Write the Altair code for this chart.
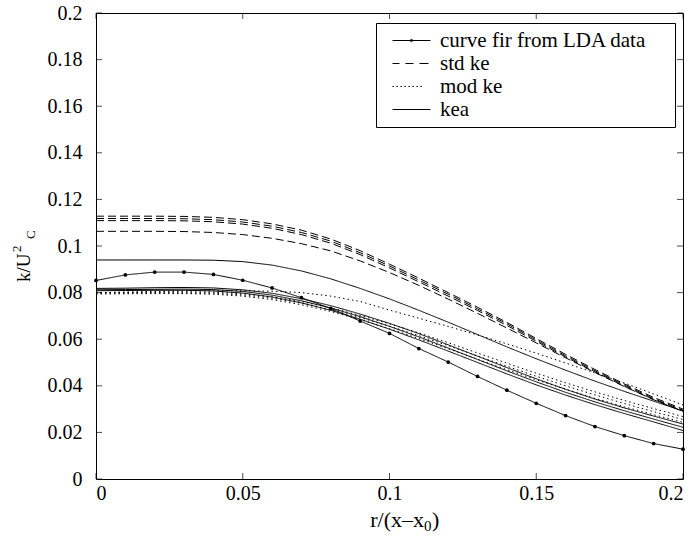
import altair as alt
import pandas as pd

# ---------------- data ----------------
r = [0.00, 0.01, 0.02, 0.03, 0.04, 0.05, 0.06, 0.07, 0.08, 0.09, 0.10,
     0.11, 0.12, 0.13, 0.14, 0.15, 0.16, 0.17, 0.18, 0.19, 0.20]

lda = [0.0852, 0.0876, 0.0888, 0.0888, 0.0878, 0.0853, 0.0820, 0.0778, 0.0732, 0.0678, 0.0625,
       0.0560, 0.0502, 0.0440, 0.0381, 0.0325, 0.0272, 0.0225, 0.0186, 0.0152, 0.0128]

std_ke_a = [0.1128, 0.1128, 0.1128, 0.1127, 0.1123, 0.1113, 0.1095, 0.1068, 0.1030, 0.0980, 0.0922,
            0.0862, 0.0800, 0.0737, 0.0672, 0.0603, 0.0535, 0.0470, 0.0408, 0.0350, 0.0300]
std_ke_b = [0.1118, 0.1118, 0.1118, 0.1117, 0.1113, 0.1103, 0.1085, 0.1058, 0.1021, 0.0971, 0.0914,
            0.0854, 0.0793, 0.0730, 0.0666, 0.0597, 0.0529, 0.0465, 0.0403, 0.0345, 0.0295]
std_ke_c = [0.1109, 0.1109, 0.1109, 0.1108, 0.1104, 0.1094, 0.1076, 0.1049, 0.1012, 0.0963, 0.0906,
            0.0846, 0.0785, 0.0723, 0.0659, 0.0591, 0.0524, 0.0460, 0.0398, 0.0341, 0.0291]
std_ke_d = [0.1063, 0.1063, 0.1063, 0.1062, 0.1058, 0.1049, 0.1033, 0.1010, 0.0979, 0.0936, 0.0886,
            0.0831, 0.0772, 0.0711, 0.0648, 0.0584, 0.0520, 0.0457, 0.0397, 0.0340, 0.0290]

mod_ke_a = [0.0800, 0.0802, 0.0805, 0.0807, 0.0808, 0.0808, 0.0806, 0.0800, 0.0785, 0.0762, 0.0725,
            0.0690, 0.0655, 0.0618, 0.0580, 0.0540, 0.0498, 0.0455, 0.0412, 0.0365, 0.0318]
mod_ke_b = [0.0800, 0.0801, 0.0802, 0.0803, 0.0801, 0.0795, 0.0782, 0.0762, 0.0735, 0.0702, 0.0666,
            0.0627, 0.0585, 0.0541, 0.0497, 0.0454, 0.0413, 0.0374, 0.0337, 0.0302, 0.0268]
mod_ke_c = [0.0797, 0.0798, 0.0799, 0.0799, 0.0797, 0.0790, 0.0776, 0.0755, 0.0727, 0.0693, 0.0656,
            0.0615, 0.0572, 0.0528, 0.0484, 0.0441, 0.0400, 0.0361, 0.0324, 0.0289, 0.0255]
mod_ke_d = [0.0794, 0.0795, 0.0796, 0.0796, 0.0793, 0.0785, 0.0770, 0.0748, 0.0719, 0.0684, 0.0645,
            0.0603, 0.0559, 0.0514, 0.0469, 0.0426, 0.0385, 0.0346, 0.0310, 0.0276, 0.0243]

kea_a = [0.0940, 0.0940, 0.0940, 0.0940, 0.0939, 0.0933, 0.0918, 0.0893, 0.0859, 0.0818, 0.0773,
         0.0724, 0.0673, 0.0620, 0.0567, 0.0516, 0.0467, 0.0420, 0.0376, 0.0334, 0.0292]
kea_b = [0.0818, 0.0819, 0.0821, 0.0822, 0.0820, 0.0812, 0.0797, 0.0774, 0.0744, 0.0708, 0.0668,
         0.0624, 0.0576, 0.0527, 0.0478, 0.0430, 0.0385, 0.0343, 0.0305, 0.0270, 0.0236]
kea_c = [0.0812, 0.0813, 0.0814, 0.0815, 0.0813, 0.0805, 0.0789, 0.0765, 0.0734, 0.0697, 0.0655,
         0.0610, 0.0562, 0.0513, 0.0464, 0.0417, 0.0372, 0.0331, 0.0293, 0.0257, 0.0222]
kea_d = [0.0808, 0.0809, 0.0810, 0.0810, 0.0807, 0.0798, 0.0781, 0.0756, 0.0724, 0.0686, 0.0643,
         0.0597, 0.0549, 0.0500, 0.0451, 0.0404, 0.0360, 0.0319, 0.0281, 0.0245, 0.0208]

models = ["curve fir from LDA data", "std ke", "mod ke", "kea"]
styles = ["solid", "dashed", "dotted", "solid"]

x_ticks = [0, 0.05, 0.1, 0.15, 0.2]
y_ticks = [0, 0.02, 0.04, 0.06, 0.08, 0.1, 0.12, 0.14, 0.16, 0.18, 0.2]

y_title = ["k/U", "2", "C"]
x_title = ["r/(x\u2013x", "0", ")"]

# ---------------- build tables ----------------
series = [
    (0, "lda", lda),
    (1, "std_a", std_ke_a), (1, "std_b", std_ke_b), (1, "std_c", std_ke_c), (1, "std_d", std_ke_d),
    (2, "mod_a", mod_ke_a), (2, "mod_b", mod_ke_b), (2, "mod_c", mod_ke_c), (2, "mod_d", mod_ke_d),
    (3, "kea_a", kea_a), (3, "kea_b", kea_b), (3, "kea_c", kea_c), (3, "kea_d", kea_d),
]
rows = []
for mi, run, vals in series:
    for xv, kv in zip(r, vals):
        rows.append({"r": xv, "k": kv, "model": models[mi], "style": styles[mi], "run": run})
df = pd.DataFrame(rows)
df_lda = df[df["run"] == "lda"]
df_xt = pd.DataFrame({"r": x_ticks})
df_yt = pd.DataFrame({"k": y_ticks})

W, H = 587, 466
SERIF = "Liberation Serif"
TICK = 6

xs = alt.Scale(domain=[0, 0.2], nice=False, zero=False)
ys = alt.Scale(domain=[0, 0.2], nice=False, zero=False)

xa = alt.Axis(orient="bottom", values=x_ticks, format="~g", ticks=False, domain=False, grid=False,
              labelPadding=4, title="", labelFont=SERIF, labelFontSize=20, labelColor="black")
ya = alt.Axis(orient="left", values=y_ticks, format="~g", ticks=False, domain=False, grid=False,
              labelPadding=14, title="", labelFont=SERIF, labelFontSize=20, labelColor="black")

X = alt.X("r:Q", scale=xs, axis=xa)
Y = alt.Y("k:Q", scale=ys, axis=ya)

# legend glyph paths (unit box -1..1 => 20 px per unit with symbolSize 1600)
p_lda = "M-0.5,0H1.4M0.39,0A0.06,0.06,0,1,0,0.51,0A0.06,0.06,0,1,0,0.39,0"
p_std = "M-0.5,0H-0.15M0.15,0H0.55M0.85,0H1.3"
p_mod = "".join("M%.2f,0h0.07" % (-0.5 + 0.2 * i) for i in range(8))
p_kea = "M-0.5,0H1.4"

lines = alt.Chart(df).mark_line(strokeWidth=1, color="black", clip=True).encode(
    x=X, y=Y,
    strokeDash=alt.StrokeDash("style:N",
                              scale=alt.Scale(domain=["solid", "dashed", "dotted"],
                                              range=[[1, 0], [8, 4], [1.5, 3]]),
                              legend=None),
    detail="run:N",
    order="r:Q",
)

pts = alt.Chart(df_lda).mark_point(filled=True, size=14, color="black", opacity=1).encode(x=X, y=Y)

# empty layer that only carries the legend
leg = alt.Chart(df_lda).transform_filter("false").mark_point(
    filled=False, color="black", strokeWidth=1
).encode(
    x=X, y=Y,
    shape=alt.Shape("model:N", scale=alt.Scale(domain=models, range=[p_lda, p_std, p_mod, p_kea]),
                    legend=alt.Legend(
                        title=models[3], titleOpacity=0, titleOrient="right", titlePadding=0,
                        titleFontSize=15, titleFont=SERIF,
                        orient="none", legendX=280, legendY=10,
                        padding=6, strokeColor="black", fillColor="white",
                        symbolSize=1600, symbolStrokeWidth=1, symbolStrokeColor="black",
                        symbolOpacity=1,
                        labelFont=SERIF, labelFontSize=21, labelColor="black",
                        labelOffset=17, clipHeight=23, rowPadding=0, labelLimit=400,
                    )),
)

# inward ticks on all four sides
tk_left = alt.Chart(df_yt).mark_tick(orient="horizontal", size=TICK, thickness=1, color="black").encode(
    y=Y, x=alt.value(TICK / 2))
tk_right = alt.Chart(df_yt).mark_tick(orient="horizontal", size=TICK, thickness=1, color="black").encode(
    y=Y, x=alt.value(W - TICK / 2))
tk_bottom = alt.Chart(df_xt).mark_tick(orient="vertical", size=TICK, thickness=1, color="black").encode(
    x=X, y=alt.value(H - TICK / 2))
tk_top = alt.Chart(df_xt).mark_tick(orient="vertical", size=TICK, thickness=1, color="black").encode(
    x=X, y=alt.value(TICK / 2))

# axis titles as text pieces (superscript / subscript)
yt_main = alt.Chart(pd.DataFrame({"t": [y_title[0]]})).mark_text(
    font=SERIF, fontSize=19, angle=270, align="left", baseline="alphabetic", color="black"
).encode(x=alt.value(30 - 96), y=alt.value(282 - 13), text="t:N")
yt_sup = alt.Chart(pd.DataFrame({"t": [y_title[1]]})).mark_text(
    font=SERIF, fontSize=13, angle=270, align="left", baseline="alphabetic", color="black"
).encode(x=alt.value(21 - 96), y=alt.value(252 - 13), text="t:N")
yt_sub = alt.Chart(pd.DataFrame({"t": [y_title[2]]})).mark_text(
    font=SERIF, fontSize=13, angle=270, align="left", baseline="alphabetic", color="black"
).encode(x=alt.value(35 - 96), y=alt.value(239 - 13), text="t:N")

xt_main = alt.Chart(pd.DataFrame({"t": [x_title[0]]})).mark_text(
    font=SERIF, fontSize=22, align="right", baseline="alphabetic", color="black"
).encode(x=alt.value(424 - 96), y=alt.value(527 - 13), text="t:N")
xt_sub = alt.Chart(pd.DataFrame({"t": [x_title[1]]})).mark_text(
    font=SERIF, fontSize=15, align="left", baseline="alphabetic", color="black"
).encode(x=alt.value(424 - 96), y=alt.value(531 - 13), text="t:N")
xt_close = alt.Chart(pd.DataFrame({"t": [x_title[2]]})).mark_text(
    font=SERIF, fontSize=22, align="left", baseline="alphabetic", color="black"
).encode(x=alt.value(432 - 96), y=alt.value(527 - 13), text="t:N")

chart = alt.layer(
    lines, pts, leg, tk_left, tk_right, tk_bottom, tk_top,
    yt_main, yt_sup, yt_sub, xt_main, xt_sub, xt_close
).properties(
    width=W, height=H,
    autosize=alt.AutoSizeParams(type="none"),
    padding={"left": 96, "top": 13, "right": 17, "bottom": 57},
    background="white",
).configure(
    font=SERIF
).configure_view(
    stroke="black", strokeWidth=1
).configure_axis(
    labelFont=SERIF, labelFontSize=20, labelColor="black"
).configure_legend(
    labelFont=SERIF, labelFontSize=21
)

chart.save("out.html", embed_options={"renderer": "svg", "actions": False})
